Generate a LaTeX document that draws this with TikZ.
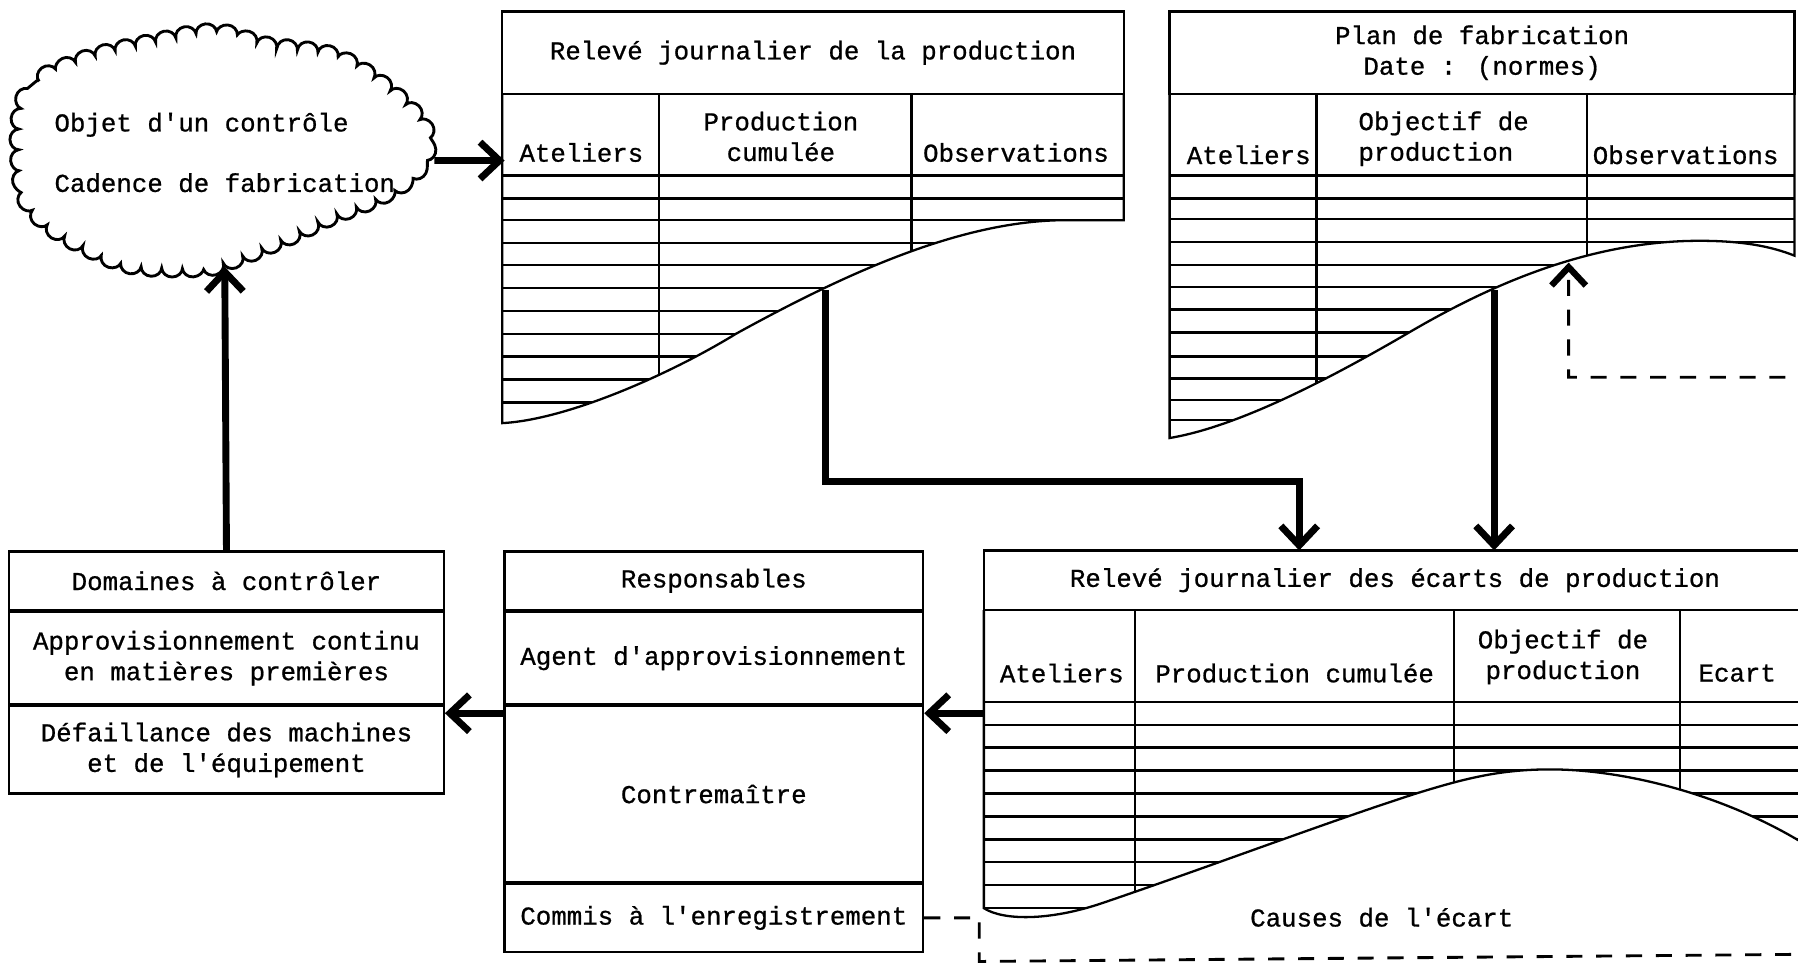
\documentclass[tikz,border=0pt]{standalone}
\usepackage{fontspec}
\usepackage{tikz}
\usetikzlibrary{positioning,arrows.meta,decorations.pathmorphing}
\newfontfamily\typefont[FakeBold=0.8]{Liberation Mono}
\tikzset{
    table-line/.style = {draw=black, line width=0.2mm},
    cell-text/.style = {font=\typefont\fontsize{6.4}{7.6}\selectfont, inner sep=0pt, align=center},
    box-cell/.style = {draw=black, line width=0.2mm, rectangle, inner sep=0pt, font=\typefont\fontsize{6.4}{7.6}\selectfont, align=center},
    thick-arrow/.style = {line width=0.6mm, -{Straight Barb[length=1.7mm, width=3.2mm]}},
    dash-link/.style = {line width=0.25mm, dash pattern=on 1.4mm off 1.2mm, -{Straight Barb[length=1.6mm, width=3mm, line width=0.55mm]}},
    cloud-line/.style = {draw=black, line width=0.25mm, decorate, decoration={bumps, segment length=3.6mm, amplitude=0.8mm}},
}

\begin{document}
\begin{tikzpicture}[x=0.1mm, y=-0.1mm]
\useasboundingbox (0,0) rectangle (1568,840);
\clip (0,0) rectangle (1568,840);

\draw[cloud-line] plot[smooth cycle, tension=0.6] coordinates {(20,93) (34,71) (75,52) (131,38) (186,29) (233,40) (289,49) (330,72) (365,105) (371,131) (358,153) (331,171) (288,189) (245,209) (203,226) (174,233) (117,231) (75,215) (42,195) (23,171) (17,131)};
\node[cell-text, align=left, minimum width=36.4mm, minimum height=19.8mm] (objet) at (196,133) {Objet d'un contrôle\\[2.6mm]Cadence de fabrication};

\node[box-cell, minimum width=54.2mm, minimum height=7.2mm] (releve-title) at (709,46) {Relevé journalier de la production};
\begin{scope}
  \clip (438,82) -- (980,82) -- (980,192) -- (930,192) .. controls (840,192) and (740,237) .. (642,291) .. controls (585,326) and (495,366) .. (438,369) -- cycle;
  \foreach \y in {153,173,192,212,231,251,271,291,311,331,351}
    \draw[table-line] (438,\y) -- (980,\y);
  \foreach \x in {575,795}
    \draw[table-line] (\x,82) -- (\x,380);
\end{scope}
\draw[table-line] (438,82) -- (438,369) .. controls (495,366) and (585,326) .. (642,291) .. controls (740,237) and (840,192) .. (930,192) -- (980,192) -- (980,82);
\node[cell-text] (releve-ateliers) at (507,133) {Ateliers};
\node[cell-text] (releve-cumul) at (681,119) {Production\\cumulée};
\node[cell-text] (releve-obs) at (886,133) {Observations};
\coordinate (releve-in) at (440,140);
\coordinate (releve-peel) at (720,253);

\node[box-cell, minimum width=54.5mm, minimum height=7.2mm] (plan-title) at (1292.5,46) {Plan de fabrication\\Date : (normes)};
\begin{scope}
  \clip (1020,82) -- (1565,82) -- (1565,223) .. controls (1545,215) and (1520,210) .. (1482,210) .. controls (1380,210) and (1290,254) .. (1227,291) .. controls (1160,330) and (1080,372) .. (1020,382) -- cycle;
  \foreach \y in {153,173,191,211,231,250,270,290,311,330,349,366}
    \draw[table-line] (1020,\y) -- (1565,\y);
  \foreach \x in {1148,1384}
    \draw[table-line] (\x,82) -- (\x,400);
\end{scope}
\draw[table-line] (1020,82) -- (1020,382) .. controls (1080,372) and (1160,330) .. (1227,291) .. controls (1290,254) and (1380,210) .. (1482,210) .. controls (1520,210) and (1545,215) .. (1565,223) -- (1565,82);
\node[cell-text] (plan-ateliers) at (1089,135) {Ateliers};
\node[cell-text, align=left, anchor=west] (plan-objectif) at (1184,121) {Objectif de\\production};
\node[cell-text] (plan-obs) at (1470,135) {Observations};
\coordinate (plan-peel) at (1303,253);
\coordinate (plan-mark) at (1368,229);

\node[box-cell, minimum width=71.7mm, minimum height=5.2mm] (ecarts-title) at (1216.5,506) {Relevé journalier des écarts de production};
\begin{scope}
  \clip (858,532) -- (1580,532) -- (1580,740) .. controls (1510,695) and (1420,671) .. (1352,671) .. controls (1310,671) and (1280,678) .. (1235,692) .. controls (1160,716) and (1060,754) .. (960,788) .. controls (915,803) and (875,803) .. (858,792) -- cycle;
  \foreach \y in {612,632,652,672,692,712,732,752,772,792}
    \draw[table-line] (858,\y) -- (1580,\y);
  \foreach \x in {990,1268,1465}
    \draw[table-line] (\x,532) -- (\x,820);
\end{scope}
\draw[table-line] (858,532) -- (858,792) .. controls (875,803) and (915,803) .. (960,788) .. controls (1060,754) and (1160,716) .. (1235,692) .. controls (1280,678) and (1310,671) .. (1352,671) .. controls (1420,671) and (1510,695) .. (1580,740);
\node[cell-text] (ecarts-ateliers) at (926,587) {Ateliers};
\node[cell-text] (ecarts-cumul) at (1129,587) {Production cumulée};
\node[cell-text] (ecarts-objectif) at (1363,573) {Objectif de\\production};
\node[cell-text] (ecarts-ecart) at (1515,587) {Ecart};
\node[cell-text] (ecarts-causes) at (1205,800) {Causes de l'écart};
\coordinate (ecarts-in-a) at (1133,480);
\coordinate (ecarts-in-b) at (1303,480);
\coordinate (ecarts-out) at (858,622);

\node[box-cell, minimum width=37.9mm, minimum height=5.1mm] (dom-title) at (197.5,506.5) {Domaines à contrôler};
\node[box-cell, minimum width=37.9mm, minimum height=8mm, below=0pt of dom-title] (dom-supply) {Approvisionnement continu\\en matières premières};
\node[box-cell, minimum width=37.9mm, minimum height=7.6mm, below=0pt of dom-supply] (dom-machines) {Défaillance des machines\\et de l'équipement};

\node[box-cell, minimum width=36.5mm, minimum height=5.1mm] (resp-title) at (622.5,506.5) {Responsables};
\node[box-cell, minimum width=36.5mm, minimum height=8mm, below=0pt of resp-title] (resp-agent) {Agent d'approvisionnement};
\node[box-cell, minimum width=36.5mm, minimum height=15.3mm, below=0pt of resp-agent] (resp-contre) {Contremaître};
\node[box-cell, minimum width=36.5mm, minimum height=5.9mm, below=0pt of resp-contre] (resp-commis) {Commis à l'enregistrement};

\draw[thick-arrow] ([yshift=-0.7mm]objet.east) -- (releve-in);
\draw[thick-arrow] (dom-title.north) -- (objet.south);
\draw[thick-arrow] (releve-peel) -- ++(0,167) -| (ecarts-in-a);
\draw[thick-arrow] (plan-peel) -- (ecarts-in-b);
\draw[thick-arrow] (ecarts-out) -- (ecarts-out -| resp-contre.east);
\draw[thick-arrow] (resp-contre.west |- ecarts-out) -- (ecarts-out -| dom-machines.east);
\draw[dash-link] (resp-commis.east) -- ++(48,0) -- ++(0,38) -- (1600,832) -- (1600,329) -- (1368,329) -- (plan-mark);
\end{tikzpicture}
\end{document}
